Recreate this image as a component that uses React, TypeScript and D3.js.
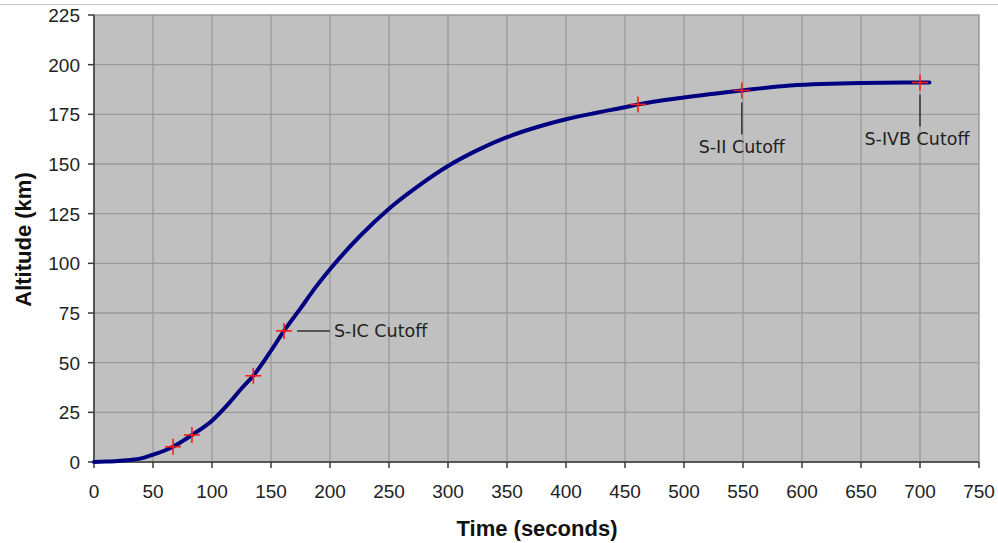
import React from 'react';
import * as d3 from 'd3';

// flight profile: time (s) vs altitude (km)
const times = [0, 10, 20, 30, 40, 50, 60, 67, 75, 83, 100, 115, 125, 135, 150, 161, 175, 186, 200, 225, 250, 275, 300, 325, 350, 375, 400, 426, 450, 461, 500, 549, 590, 650, 700, 708];
const altitudes = [0, 0.2, 0.5, 1, 1.8, 3.7, 5.8, 7.7, 10.5, 13.6, 20.8, 30, 37, 43.4, 56, 66, 77.3, 86.5, 97, 113.5, 127.5, 139, 149, 157, 163.5, 168.5, 172.5, 175.8, 178.6, 180, 183.5, 187, 189.5, 190.8, 191, 191];

// event markers
const markerTimes = [67, 83, 135, 161, 461, 549, 700];
const markerAlts = [7.7, 13.6, 43.4, 66, 180, 187, 191];

// annotated events
const eventNames = ['S-IC Cutoff', 'S-II Cutoff', 'S-IVB Cutoff'];
const eventTimes = [161, 549, 700];
const eventAlts = [66, 187, 191];

const xTicks = d3.range(0, 751, 50);
const yTicks = d3.range(0, 226, 25);

const W = 998;
const H = 543;
const margin = { top: 15, right: 19, bottom: 81, left: 94 };

export default function App() {
    const x = d3.scaleLinear().domain([0, 750]).range([margin.left, W - margin.right]);
    const y = d3.scaleLinear().domain([0, 225]).range([H - margin.bottom, margin.top]);

    const pts: [number, number][] = times.map((t, i) => [t, altitudes[i]]);
    const line = d3.line<[number, number]>()
        .x(d => x(d[0]))
        .y(d => y(d[1]))
        .curve(d3.curveMonotoneX);

    const x0 = x(0), x1 = x(750), y0 = y(0), y1 = y(225);
    const tickFont = '"Liberation Sans", Arial, sans-serif';
    const noteFont = '"DejaVu Sans", Verdana, sans-serif';

    return (
        <svg width={W} height={H} style={{ position: 'absolute', left: 0, top: 0, background: '#fff' }}>
            {/* thin page rule at top */}
            <line x1={0} x2={W} y1={4.5} y2={4.5} stroke="#c4c4c4" strokeWidth={1.2} />

            {/* plot area */}
            <rect x={x0} y={y1} width={x1 - x0} height={y0 - y1} fill="#c0c0c0" stroke="#9a9a9a" strokeWidth={1.5} />

            {/* grid */}
            {xTicks.slice(1, -1).map(t => (
                <line key={'gx' + t} x1={x(t)} x2={x(t)} y1={y1} y2={y0} stroke="#9a9a9a" strokeWidth={1.3} />
            ))}
            {yTicks.slice(1, -1).map(v => (
                <line key={'gy' + v} x1={x0} x2={x1} y1={y(v)} y2={y(v)} stroke="#9a9a9a" strokeWidth={1.3} />
            ))}

            {/* axes */}
            <line x1={x0} x2={x0} y1={y1} y2={y0} stroke="#3a3a3a" strokeWidth={1.5} />
            <line x1={x0} x2={x1} y1={y0} y2={y0} stroke="#3a3a3a" strokeWidth={1.5} />
            {yTicks.map(v => (
                <g key={'ty' + v}>
                    <line x1={x0 - 6} x2={x0} y1={y(v)} y2={y(v)} stroke="#3a3a3a" strokeWidth={1.5} />
                    <text x={x0 - 14} y={y(v)} dy="0.36em" textAnchor="end" fontFamily={tickFont} fontSize={19} fill="#222">{v}</text>
                </g>
            ))}
            {xTicks.map(t => (
                <g key={'tx' + t}>
                    <line x1={x(t)} x2={x(t)} y1={y0} y2={y0 + 6} stroke="#3a3a3a" strokeWidth={1.5} />
                    <text x={x(t)} y={491} dy="0.36em" textAnchor="middle" fontFamily={tickFont} fontSize={19} fill="#222">{t}</text>
                </g>
            ))}

            {/* axis titles */}
            <text x={537} y={528} dy="0.36em" textAnchor="middle" fontFamily={tickFont} fontWeight="bold" fontSize={22} fill="#111">Time (seconds)</text>
            <text transform={`translate(23, ${(y0 + y1) / 2 + 1}) rotate(-90)`} dy="0.36em" textAnchor="middle" fontFamily={tickFont} fontWeight="bold" fontSize={22} fill="#111">Altitude (km)</text>

            {/* trajectory */}
            <path d={line(pts) ?? ''} fill="none" stroke="#000080" strokeWidth={4} strokeLinejoin="round" strokeLinecap="round" />

            {/* markers */}
            {markerTimes.map((t, i) => (
                <g key={'m' + i} stroke="#ff1a1a" strokeWidth={1.6}>
                    <line x1={x(t) - 8} x2={x(t) + 8} y1={y(markerAlts[i])} y2={y(markerAlts[i])} />
                    <line x1={x(t)} x2={x(t)} y1={y(markerAlts[i]) - 8} y2={y(markerAlts[i]) + 8} />
                </g>
            ))}

            {/* annotations */}
            {eventNames.map((name, i) => {
                const px = x(eventTimes[i]);
                const py = y(eventAlts[i]);
                if (i === 0) {
                    return (
                        <g key={name}>
                            <line x1={px + 13} x2={px + 46} y1={py} y2={py} stroke="#333" strokeWidth={1.5} />
                            <text x={px + 50} y={py} dy="0.36em" fontFamily={noteFont} fontSize={17.5} fill="#222">{name}</text>
                        </g>
                    );
                }
                return (
                    <g key={name}>
                        <line x1={px} x2={px} y1={py + 12} y2={py + 44} stroke="#333" strokeWidth={1.5} />
                        <text x={px - (i === 1 ? 0 : 3)} y={py + 56} dy="0.36em" textAnchor="middle" fontFamily={noteFont} fontSize={17.5} fill="#222">{name}</text>
                    </g>
                );
            })}
        </svg>
    );
}
